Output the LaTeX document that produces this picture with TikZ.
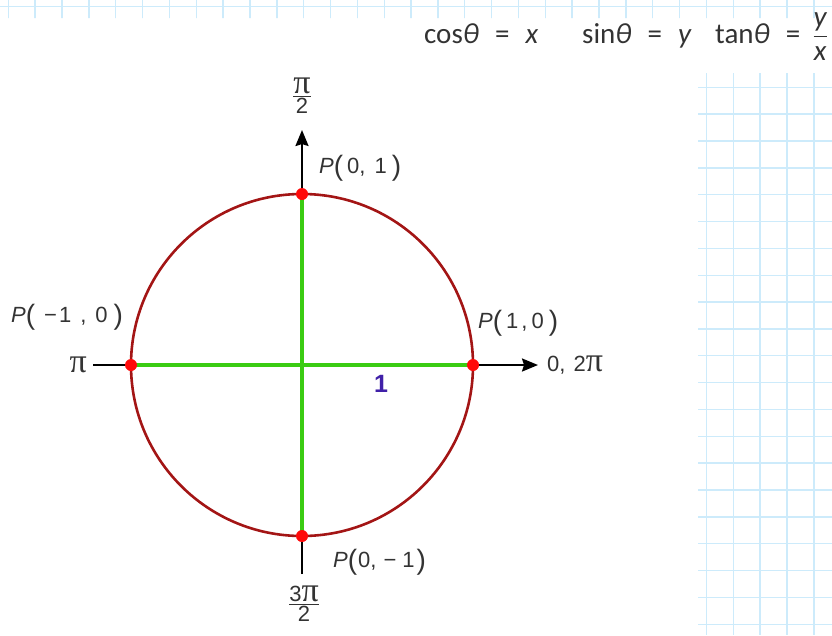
\documentclass[tikz,border=0pt]{standalone}
\usepackage{fontspec}
\setmainfont{Liberation Sans}
\newfontfamily\eqfont{Carlito}
\newfontfamily\pifont{Liberation Serif}
\usepackage{tikz}
\usetikzlibrary{arrows.meta, positioning, backgrounds}
\definecolor{GridBlue}{HTML}{CDEBFB}
\definecolor{CircleRed}{HTML}{A31515}
\definecolor{RadiusGreen}{HTML}{3ACC12}
\definecolor{PointRed}{HTML}{FF0A0A}
\definecolor{UnitPurple}{HTML}{4020A8}
\definecolor{TextGray}{HTML}{333333}
\newcommand{\tallparen}[1]{\raisebox{-2pt}{\fontsize{28}{28}\selectfont #1}}
\newcommand{\piglyph}{{\pifont\fontsize{34}{34}\selectfont π}}

\begin{document}
\begin{tikzpicture}[
    x=1pt, y=-1pt,
    % Style for the squared paper
    gridline/.style = {GridBlue, line width=1.4pt},
    % Style for the two axes
    axisline/.style = {line width=2.2pt, -{Stealth[length=16pt, width=13pt, inset=2pt]}},
    greenline/.style = {RadiusGreen, line width=4pt},
    unitcircle/.style = {CircleRed, line width=2.6pt},
    pointdot/.style = {circle, fill=PointRed, minimum size=12pt, inner sep=0pt},
    % Style for the point and angle labels
    plabel/.style = {font=\fontsize{22}{22}\selectfont, text=TextGray, inner sep=0pt, anchor=base west},
    pilabel/.style = {font=\pifont\fontsize{34}{34}\selectfont, text=TextGray, inner sep=0pt},
    fraclabel/.style = {font=\fontsize{22}{22}\selectfont, text=TextGray, inner sep=0pt},
    unitlabel/.style = {font=\fontsize{25}{25}\selectfont\bfseries, text=UnitPurple, inner sep=0pt},
    eqlabel/.style = {font=\eqfont\fontsize{29}{29}\selectfont, text=TextGray, inner sep=0pt, anchor=base west},
]
\useasboundingbox (0,0) rectangle (832,635);

% --- 1. POINTS ON THE CIRCLE ---
\coordinate (O) at (302,365);
\node[pointdot] (p10) at (473,365) {};
\node[pointdot] (pm10) at (131,365) {};
\node[pointdot] (p01) at (302,194) {};
\node[pointdot] (p0m1) at (302,536) {};

% axis ends
\coordinate (xstart) at (93,365);
\coordinate (xtip) at (538,365);
\coordinate (ystart) at (302,574);
\coordinate (ytip) at (302,130);

% --- 2. PAPER, AXES, RADII, CIRCLE ---
\begin{scope}[on background layer]
    % squared paper
    \begin{scope}
        \clip (0,0) rectangle (832,18) (698,73) rectangle (832,635);
        \foreach \i in {0,...,30} \draw[gridline] (8.3+26.85*\i,0) -- (8.3+26.85*\i,635);
        \foreach \j in {0,...,23} \draw[gridline] (0,6.7+26.85*\j) -- (832,6.7+26.85*\j);
    \end{scope}
    \draw[axisline] (xstart) -- (xtip);
    \draw[axisline] (ystart) -- (ytip);
    \draw[greenline] (pm10.center) -- (p10.center);
    \draw[greenline] (p0m1.center) -- (p01.center);
    \draw[unitcircle] (O) circle[radius=171];
\end{scope}

% --- 3. LABELS ---
\node[plabel] (lbl01) at (319,173) {\textit{P}\tallparen{(}\hspace{4pt}0,\hspace{9pt}1\hspace{5pt}\tallparen{)}};
\node[plabel] (lblm10) at (11,322) {\textit{P}\tallparen{(}\hspace{9pt}−\hspace{2pt}1\hspace{9pt},\hspace{9pt}0\hspace{6pt}\tallparen{)}};
\node[plabel] (lbl10) at (478,328) {\textit{P}\tallparen{(}\hspace{4pt}1\hspace{3pt},\hspace{4pt}0\hspace{5pt}\tallparen{)}};
\node[plabel] (lbl0m1) at (333,567) {\textit{P}\tallparen{(}\hspace{1pt}0,\hspace{7pt}−\hspace{6pt}1\hspace{2pt}\tallparen{)}};
\node[pilabel, left=6pt of xstart] (lblpi) {π};
\node[plabel, right=9pt of xtip] (lblzero) {0,\hspace{8pt}2\piglyph};
\node[fraclabel] (lblhalfpi) at (302,96) {${\mbox{\piglyph}\above1.3pt\mbox{2}}$};
\node[fraclabel] (lbl3halfpi) at (304,604) {${\mbox{3\piglyph}\above1.3pt\mbox{2}}$};
\node[unitlabel] (lblone) at (381,384) {1};

% formulas at the top
\node[eqlabel] (eqcos) at (424,43) {cos\textit{θ}\hspace{16pt}=\hspace{16pt}\textit{x}};
\node[eqlabel] (eqsin) at (582,43) {sin\textit{θ}\hspace{16pt}=\hspace{16pt}\textit{y}};
\node[eqlabel] (eqtan) at (715,43) {tan\textit{θ}\hspace{16pt}=\hspace{12pt}$\displaystyle{\mbox{\textit{y}}\above1.2pt\mbox{\textit{x}}}$};

\end{tikzpicture}
\end{document}
